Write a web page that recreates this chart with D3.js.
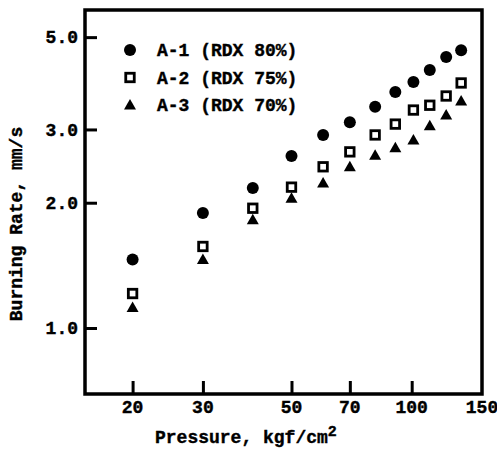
<!DOCTYPE html>
<html><head><meta charset="utf-8">
<script src="https://cdn.jsdelivr.net/npm/d3@7"></script>
<style>
html,body{margin:0;padding:0;background:#fff;}
svg{display:block;}
text{font-family:"Liberation Mono","DejaVu Sans Mono",monospace;font-weight:bold;fill:#000;stroke:#000;stroke-width:0.4px;}
</style></head>
<body>
<svg id="chart" width="497" height="450"></svg>
<script>
const pressure = [20, 30, 40, 50, 60, 70, 81, 91, 101, 111, 122, 133];
const rateA1 = [1.46, 1.89, 2.17, 2.59, 2.91, 3.12, 3.40, 3.69, 3.90, 4.17, 4.48, 4.65];
const rateA2 = [1.21, 1.57, 1.94, 2.18, 2.44, 2.65, 2.91, 3.09, 3.34, 3.43, 3.61, 3.88];
const rateA3 = [1.12, 1.46, 1.82, 2.05, 2.23, 2.44, 2.60, 2.71, 2.83, 3.06, 3.25, 3.51];
const seriesNames = ["A-1 (RDX 80%)", "A-2 (RDX 75%)", "A-3 (RDX 70%)"];
const seriesShapes = ["circle", "square", "triangle"];
const xTicks = [20, 30, 50, 70, 100, 150];
const yTicks = [1.0, 2.0, 3.0, 5.0];
const xDomain = [15.2, 150];
const yDomain = [0.694, 5.81];

(function () {
const svg = d3.select("#chart");
const mLeft = 85, mRight = 482, mTop = 10, mBottom = 394;

const x = d3.scaleLog().domain(xDomain).range([mLeft, mRight]);
const y = d3.scaleLog().domain(yDomain).range([mBottom, mTop]);

// inward ticks
const xAxis = d3.axisTop(x).tickValues(xTicks.filter(v => v < 150)).tickSize(13).tickFormat("");
svg.append("g").attr("transform", `translate(0,${mBottom})`).call(xAxis)
  .call(g => g.select(".domain").remove())
  .call(g => g.selectAll(".tick line").attr("stroke", "#000").attr("stroke-width", 3));
const yAxis = d3.axisRight(y).tickValues(yTicks).tickSize(12).tickFormat("");
svg.append("g").attr("transform", `translate(${mLeft},0)`).call(yAxis)
  .call(g => g.select(".domain").remove())
  .call(g => g.selectAll(".tick line").attr("stroke", "#000").attr("stroke-width", 3));

// tick labels
svg.append("g").selectAll("text").data(xTicks).join("text")
  .attr("x", d => x(d)).attr("y", 413)
  .attr("text-anchor", "middle").attr("font-size", 18)
  .text(d => d);
svg.append("g").selectAll("text").data(yTicks).join("text")
  .attr("x", 78).attr("y", d => y(d)).attr("dy", "0.35em")
  .attr("text-anchor", "end").attr("font-size", 18)
  .text(d => d3.format(".1f")(d));

// frame
svg.append("rect").attr("x", mLeft).attr("y", mTop).attr("width", mRight - mLeft).attr("height", mBottom - mTop)
  .attr("fill", "none").attr("stroke", "#000").attr("stroke-width", 3.5);

// titles
const xt = svg.append("text").attr("x", 155).attr("y", 443).attr("font-size", 18);
xt.append("tspan").text("Pressure, kgf/cm");
xt.append("tspan").attr("dy", -7).attr("font-size", 15).text("2");
svg.append("text").attr("transform", "translate(22,224) rotate(-90)")
  .attr("text-anchor", "middle").attr("font-size", 18).text("Burning Rate, mm/s");

function drawMarker(g, shape, cx, cy) {
  if (shape === "circle") {
    g.append("circle").attr("cx", cx).attr("cy", cy).attr("r", 6).attr("fill", "#000");
  } else if (shape === "square") {
    g.append("rect").attr("x", cx - 4.25).attr("y", cy - 4.25).attr("width", 8.5).attr("height", 8.5)
      .attr("fill", "#fff").attr("stroke", "#000").attr("stroke-width", 2.8);
  } else {
    g.append("path").attr("d", `M${cx},${cy - 6}L${cx + 6},${cy + 4.5}L${cx - 6},${cy + 4.5}Z`).attr("fill", "#000");
  }
}

const allRates = [rateA1, rateA2, rateA3];
allRates.forEach((rates, i) => {
  const g = svg.append("g");
  pressure.forEach((p, j) => drawMarker(g, seriesShapes[i], x(p), y(rates[j])));
});

// legend
seriesNames.forEach((name, i) => {
  const ly = 50 + i * 27.5;
  const g = svg.append("g");
  drawMarker(g, seriesShapes[i], 130, ly);
  svg.append("text").attr("x", 157).attr("y", ly).attr("dy", "0.35em").attr("font-size", 18).text(name);
});
})();
</script>
</body></html>
